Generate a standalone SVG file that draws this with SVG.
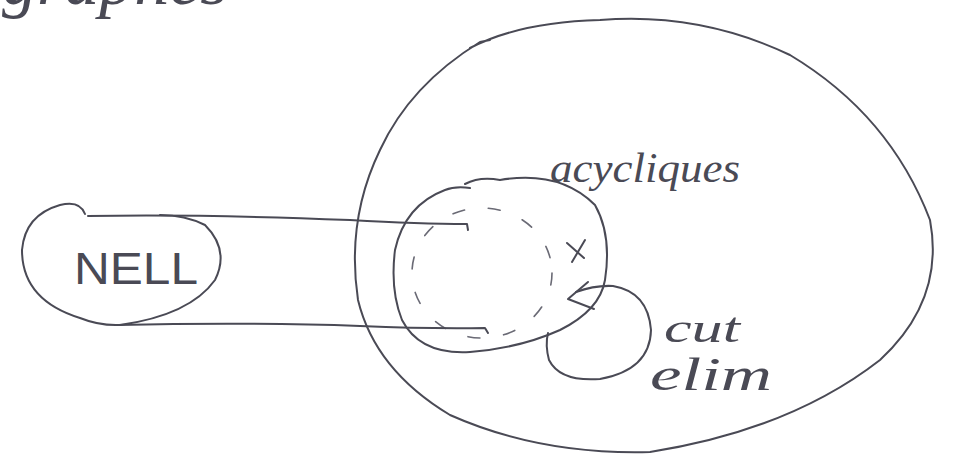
<svg xmlns="http://www.w3.org/2000/svg" width="955" height="462" viewBox="0 0 955 462">
<style>
.s{fill:none;stroke:#4a4a55;stroke-width:2;stroke-linecap:round;stroke-linejoin:round}
.d{fill:none;stroke:#6a6a75;stroke-width:1.6;stroke-dasharray:12 24;stroke-linecap:round}
.t{font-family:"Liberation Serif",serif;font-style:italic;fill:#4a4a55}
</style>
<rect width="955" height="462" fill="#ffffff"/>
<text class="t" x="2" y="4" font-size="70">graphes</text>
<g id="outer">
<path class="s" d="M470,48 Q520,22 600,20 Q700,12 790,55 Q890,115 930,220 Q945,300 880,360 Q790,430 650,452 Q540,455 450,415 Q375,370 358,300 Q346,220 380,150 Q410,85 480,42 L490,40"/>
</g>
<g id="nell">
<path class="s" d="M85,214 Q80,200 60,205 Q25,215 22,250 Q22,300 80,318 Q100,326 120,325 Q190,315 215,280 Q230,250 205,225 Q185,215 160,215"/>
<text x="74" y="284" font-size="44" textLength="124" lengthAdjust="spacingAndGlyphs" style="font-family:'Liberation Sans',sans-serif;fill:#4a4a55">NELL</text>
</g>
<g id="acycliques">
<path class="s" d="M465,184 Q480,176 500,180 Q560,170 595,205 Q612,235 605,280 Q600,310 560,330 Q520,348 470,352 Q420,355 402,320 Q390,290 395,250 Q405,205 445,190 Q455,186 470,188"/>
<ellipse class="d" cx="482" cy="273" rx="70" ry="65"/>
<path class="s" d="M567,243 L584,258 M585,240 L572,262"/>
<text class="t" x="550" y="182" font-size="42" textLength="190" lengthAdjust="spacingAndGlyphs">acycliques</text>
</g>
<g id="cutelim">
<path class="s" d="M576,292 Q595,285 613,286 Q648,292 651,330 Q650,370 600,379 Q560,382 549,360 Q545,345 548,333"/>
<text class="t" x="664" y="342" font-size="42" textLength="76" lengthAdjust="spacingAndGlyphs">cut</text>
<text class="t" x="650" y="390" font-size="46" textLength="122" lengthAdjust="spacingAndGlyphs">elim</text>
</g>
<g id="connectors">
<path class="s" d="M88,216 Q200,214 350,220 Q420,224 467,224 L468,230"/>
<path class="s" d="M118,325 Q250,322 360,326 Q430,329 485,328 L488,333"/>
<path class="s" d="M588,282 L568,299 L594,309"/>
</g>
</svg>
